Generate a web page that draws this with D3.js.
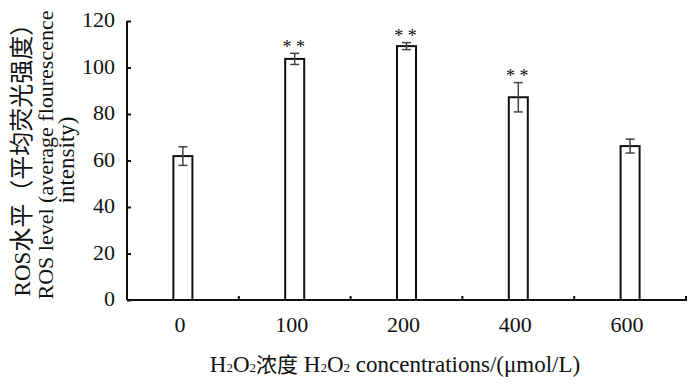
<!DOCTYPE html>
<html><head><meta charset="utf-8">
<script src="https://cdn.jsdelivr.net/npm/d3@7"></script>
<style>body{margin:0;background:#fff}</style>
</head><body>
<svg id="c" width="700" height="386"></svg>
<script>
const categories = ["0","100","200","400","600"];
const values = [61.9, 103.7, 109.2, 87.2, 66.2];
const errors = [4.0, 2.4, 1.5, 6.3, 3.0];
const sig = ["", "* *", "* *", "* *", ""];
const yTicks = [0,20,40,60,80,100,120];

const svg = d3.select("#c");
const m = {l:127, r:686, t:21, b:300};
const x = d3.scaleBand().domain(categories).range([m.l, m.r]).paddingInner(0).paddingOuter(0);
const y = d3.scaleLinear().domain([0,120]).range([m.b, m.t]);
const font = "'Liberation Serif','Times New Roman',serif";
const cjk = "'Noto Sans CJK SC',sans-serif";
const bw = 19;

// bars
svg.selectAll("rect.bar").data(values).enter().append("rect")
  .attr("x", (d,i)=>x(categories[i])+x.bandwidth()/2-bw/2)
  .attr("y", d=>y(d)).attr("width", bw).attr("height", d=>y(0)-y(d))
  .attr("fill","#fff").attr("stroke","#111").attr("stroke-width",2);

// error bars
const eg = svg.append("g").attr("stroke","#444").attr("stroke-width",1.5);
values.forEach((v,i)=>{
  const cx = x(categories[i])+x.bandwidth()/2;
  eg.append("line").attr("x1",cx).attr("x2",cx).attr("y1",y(v+errors[i])).attr("y2",y(v-errors[i]));
  eg.append("line").attr("x1",cx-4.5).attr("x2",cx+4.5).attr("y1",y(v+errors[i])).attr("y2",y(v+errors[i]));
  eg.append("line").attr("x1",cx-4.5).attr("x2",cx+4.5).attr("y1",y(v-errors[i])).attr("y2",y(v-errors[i]));
  if (sig[i]) svg.append("text").attr("x",cx-1).attr("y",y(v+errors[i])-0.5)
    .attr("text-anchor","middle").attr("font-family",font).attr("font-size",18).attr("fill","#111")
    .attr("xml:space","preserve").style("white-space","pre").text(sig[i]);
});

// y axis
const ya = d3.axisLeft(y).tickValues(yTicks).tickSize(-4).tickPadding(12);
const yg = svg.append("g").attr("transform",`translate(${m.l},0)`).call(ya);
yg.attr("font-family",font).attr("font-size",22);
yg.select(".domain").attr("stroke","#111").attr("stroke-width",2).attr("d",`M0,${m.t}V${m.b}`);
yg.selectAll(".tick line").attr("stroke","#111").attr("stroke-width",2);
yg.selectAll("text").attr("font-family",font).attr("font-size",22).attr("fill","#111").attr("dy","0.25em");

// x axis
const xg = svg.append("g").attr("transform",`translate(0,${m.b})`);
xg.append("line").attr("x1",m.l).attr("x2",m.r+1).attr("y1",0).attr("y2",0).attr("stroke","#111").attr("stroke-width",2);
const bounds = categories.slice(1).map(c=>x(c)).concat([m.r]);
bounds.forEach(b=>xg.append("line").attr("x1",b).attr("x2",b).attr("y1",0).attr("y2",-4).attr("stroke","#111").attr("stroke-width",2));
categories.forEach(c=>xg.append("text").attr("x",x(c)+x.bandwidth()/2-3).attr("y",32)
  .attr("text-anchor","middle").attr("font-family",font).attr("font-size",22).attr("fill","#111").text(c));

// x title
const xt = svg.append("text").attr("x",395).attr("y",372).attr("text-anchor","middle")
  .attr("font-family",font).attr("font-size",23).attr("fill","#111");
xt.append("tspan").text("H");
xt.append("tspan").attr("font-size",13).text("2");
xt.append("tspan").text("O");
xt.append("tspan").attr("font-size",13).text("2");
xt.append("tspan").attr("font-family",cjk).attr("font-size",21).text("浓度");
xt.append("tspan").text(" H");
xt.append("tspan").attr("font-size",13).text("2");
xt.append("tspan").text("O");
xt.append("tspan").attr("font-size",13).text("2");
xt.append("tspan").text(" concentrations/(μmol/L)");

// y title
const yt = svg.append("g").attr("transform","rotate(-90)");
const l1 = yt.append("text").attr("x",-154).attr("y",30).attr("text-anchor","middle")
  .attr("font-family",font).attr("font-size",23).attr("fill","#111");
l1.append("tspan").text("ROS");
l1.append("tspan").attr("font-family",cjk).attr("font-size",24).text("水平（平均荧光强度）");
yt.append("text").attr("x",-155).attr("y",53).attr("text-anchor","middle")
  .attr("font-family",font).attr("font-size",22).attr("fill","#111").text("ROS level (average flourescence");
yt.append("text").attr("x",-160).attr("y",74).attr("text-anchor","middle")
  .attr("font-family",font).attr("font-size",23).attr("fill","#111").text("intensity)");
</script>
</body></html>
